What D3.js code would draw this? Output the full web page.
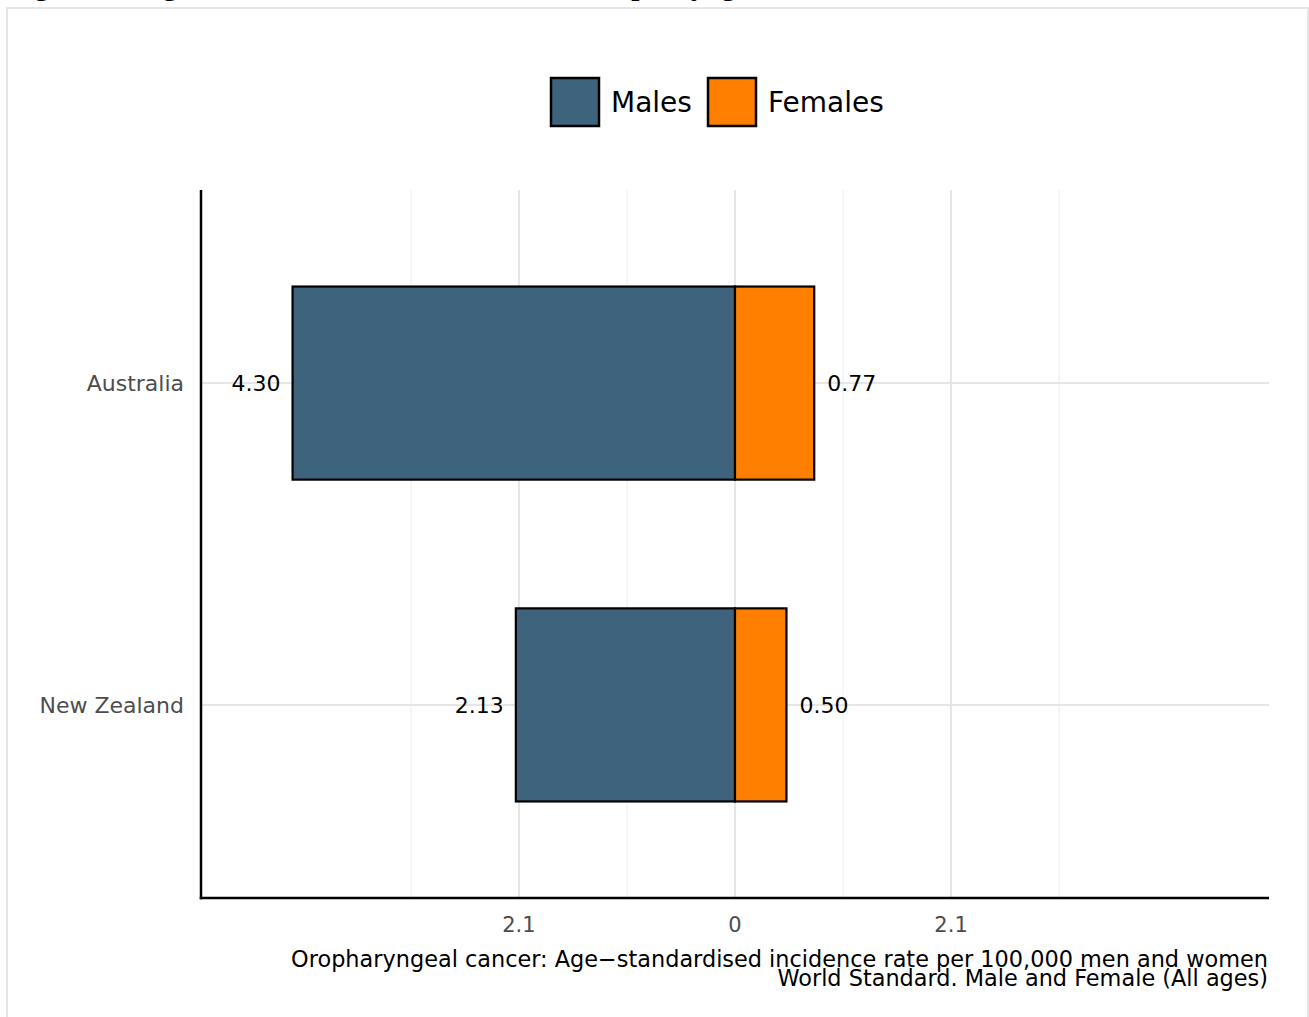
<!DOCTYPE html>
<html>
<head>
<meta charset="utf-8">
<script src="https://cdn.jsdelivr.net/npm/d3@7"></script>
<style>
  html, body { margin: 0; padding: 0; background: #ffffff; }
  svg { display: block; }
</style>
</head>
<body>
<script>
// ---- data ----
const categories = ["Australia", "New Zealand"];
const males = [4.30, 2.13];
const females = [0.77, 0.50];
const seriesNames = ["Males", "Females"];
const seriesColors = ["#3E637D", "#FF7F00"];
const xMajorTicks = [-2.1, 0, 2.1];
const xMajorLabels = ["2.1", "0", "2.1"];
const xMinorTicks = [-3.15, -1.05, 1.05, 3.15];
const xDomain = [-5.19, 5.19];
const titleText = "Figure 10: Age-standardised incidence rates of oropharyngeal cancer in Australia, and New Zealand, 2022";
const axisTitle1 = "Oropharyngeal cancer: Age\u2212standardised incidence rate per 100,000 men and women";
const axisTitle2 = "World Standard. Male and Female (All ages)";

const W = 1309, H = 1017;
const panel = { left: 201, right: 1269, top: 190, bottom: 898 };
const sans = "'DejaVu Sans', Verdana, sans-serif";

const svg = d3.select("body").append("svg").attr("width", W).attr("height", H);

// cut-off caption above the figure (only descenders visible)
svg.append("text")
  .attr("x", 9).attr("y", -5)
  .attr("font-family", "'Liberation Serif', 'Times New Roman', serif")
  .attr("font-weight", "bold")
  .attr("font-size", 29)
  .attr("fill", "#000")
  .text(titleText);

// outer frame
svg.append("rect")
  .attr("x", 7).attr("y", 8).attr("width", 1301).attr("height", 1100)
  .attr("fill", "none").attr("stroke", "#e6e6e6").attr("stroke-width", 2);

const x = d3.scaleLinear().domain(xDomain).range([panel.left, panel.right]);
const y = d3.scaleBand().domain(categories).range([panel.top, panel.bottom])
  .paddingInner(0.4).paddingOuter(0.3);

// grid
const g = svg.append("g");
g.selectAll(".minor").data(xMinorTicks).enter().append("line")
  .attr("x1", d => x(d)).attr("x2", d => x(d))
  .attr("y1", panel.top).attr("y2", panel.bottom)
  .attr("stroke", "#f4f4f4").attr("stroke-width", 1.5);
g.selectAll(".major").data(xMajorTicks).enter().append("line")
  .attr("x1", d => x(d)).attr("x2", d => x(d))
  .attr("y1", panel.top).attr("y2", panel.bottom)
  .attr("stroke", "#e6e6e6").attr("stroke-width", 2);
g.selectAll(".hmajor").data(categories).enter().append("line")
  .attr("x1", panel.left).attr("x2", panel.right)
  .attr("y1", d => y(d) + y.bandwidth() / 2).attr("y2", d => y(d) + y.bandwidth() / 2)
  .attr("stroke", "#e6e6e6").attr("stroke-width", 2);

// bars
const rows = categories.map((c, i) => ({ c, m: males[i], f: females[i] }));
svg.selectAll(".mbar").data(rows).enter().append("rect")
  .attr("x", d => x(-d.m)).attr("width", d => x(0) - x(-d.m))
  .attr("y", d => y(d.c)).attr("height", y.bandwidth())
  .attr("fill", seriesColors[0]).attr("stroke", "#000").attr("stroke-width", 2.2);
svg.selectAll(".fbar").data(rows).enter().append("rect")
  .attr("x", x(0)).attr("width", d => x(d.f) - x(0))
  .attr("y", d => y(d.c)).attr("height", y.bandwidth())
  .attr("fill", seriesColors[1]).attr("stroke", "#000").attr("stroke-width", 2.2);

// value labels
svg.selectAll(".mlab").data(rows).enter().append("text")
  .attr("x", d => x(-d.m) - 12).attr("y", d => y(d.c) + y.bandwidth() / 2)
  .attr("dy", "0.36em").attr("text-anchor", "end")
  .attr("font-family", sans).attr("font-size", 22).attr("fill", "#000")
  .text(d => d.m.toFixed(2));
svg.selectAll(".flab").data(rows).enter().append("text")
  .attr("x", d => x(d.f) + 13).attr("y", d => y(d.c) + y.bandwidth() / 2)
  .attr("dy", "0.36em").attr("text-anchor", "start")
  .attr("font-family", sans).attr("font-size", 22).attr("fill", "#000")
  .text(d => d.f.toFixed(2));

// axes lines
svg.append("line").attr("x1", panel.left).attr("x2", panel.left)
  .attr("y1", panel.top).attr("y2", panel.bottom + 1.25)
  .attr("stroke", "#000").attr("stroke-width", 2.5);
svg.append("line").attr("x1", panel.left - 1.25).attr("x2", panel.right)
  .attr("y1", panel.bottom).attr("y2", panel.bottom)
  .attr("stroke", "#000").attr("stroke-width", 2.5);

// y tick labels
svg.selectAll(".ylab").data(categories).enter().append("text")
  .attr("x", panel.left - 17).attr("y", d => y(d) + y.bandwidth() / 2)
  .attr("dy", "0.36em").attr("text-anchor", "end")
  .attr("font-family", sans).attr("font-size", 22).attr("fill", "#4d4d4d")
  .text(d => d);

// x tick labels
svg.selectAll(".xlab").data(xMajorTicks).enter().append("text")
  .attr("x", d => x(d)).attr("y", 924)
  .attr("dy", "0.36em").attr("text-anchor", "middle")
  .attr("font-family", sans).attr("font-size", 21).attr("fill", "#4d4d4d")
  .text((d, i) => xMajorLabels[i]);

// x axis title (two tightly spaced lines, right aligned)
const at = svg.append("text").attr("text-anchor", "end")
  .attr("font-family", sans).attr("font-size", 22.4).attr("fill", "#000");
at.append("tspan").attr("x", 1268).attr("y", 967).text(axisTitle1);
at.append("tspan").attr("x", 1268).attr("y", 986).text(axisTitle2);

// legend
const legendX = [551, 708];
const lg = svg.selectAll(".leg").data(seriesNames).enter().append("g");
lg.append("rect")
  .attr("x", (d, i) => legendX[i]).attr("y", 78).attr("width", 48).attr("height", 48)
  .attr("fill", (d, i) => seriesColors[i]).attr("stroke", "#000").attr("stroke-width", 2.5);
lg.append("text")
  .attr("x", (d, i) => legendX[i] + 60).attr("y", 102).attr("dy", "0.36em")
  .attr("font-family", sans).attr("font-size", 28).attr("fill", "#000")
  .text(d => d);
</script>
</body>
</html>
